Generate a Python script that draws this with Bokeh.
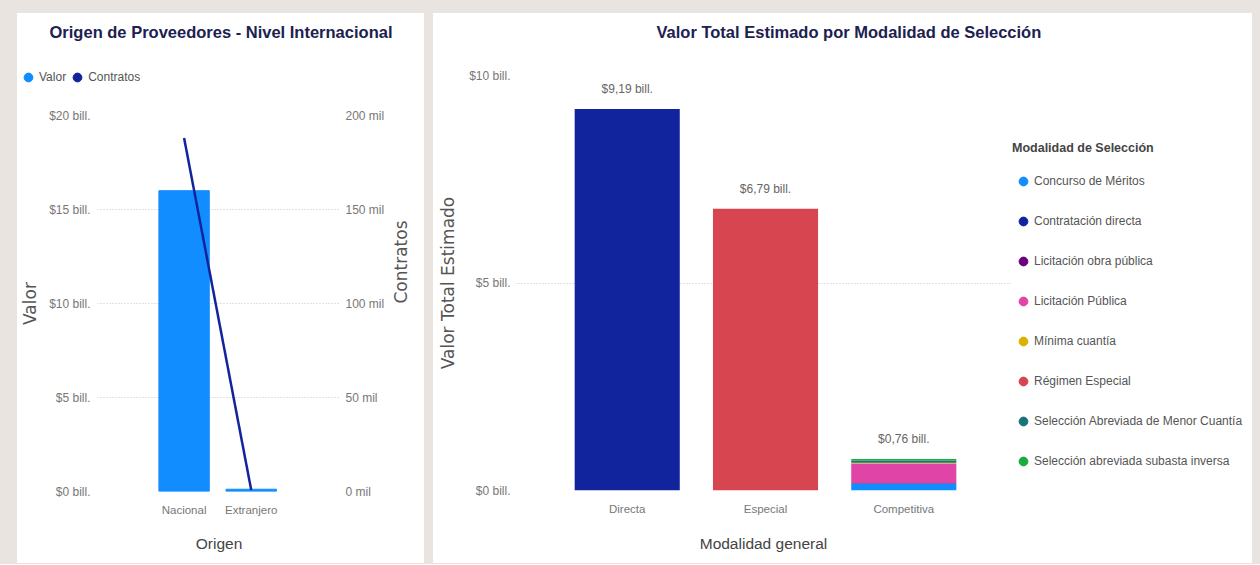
import math
from bokeh.plotting import figure
from bokeh.models import (Range1d, LinearAxis, FixedTicker, Legend, LegendItem,
                          ColumnDataSource, Spacer)
from bokeh.layouts import row, column
from bokeh.embed import file_html
from bokeh.resources import INLINE
from bokeh.core.properties import value

# ---------------- data ----------------
origen = ["Nacional", "Extranjero"]
valor_bill = [16.0, 0.12]          # billones de pesos
contratos = [188000, 800]
valor_ticks = [0, 5, 10, 15, 20]
contratos_ticks = [0, 50000, 100000, 150000, 200000]

grupos = ["Directa", "Especial", "Competitiva"]
modalidades = ["Concurso de Méritos", "Contratación directa", "Licitación obra pública",
               "Licitación Pública", "Mínima cuantía", "Régimen Especial",
               "Selección Abreviada de Menor Cuantía", "Selección abreviada subasta inversa"]
concurso_meritos = [0, 0, 0.17]
contratacion_directa = [9.19, 0, 0]
licitacion_obra = [0, 0, 0.01]
licitacion_publica = [0, 0, 0.47]
minima_cuantia = [0, 0, 0.02]
regimen_especial = [0, 6.79, 0]
sel_menor_cuantia = [0, 0, 0.05]
sel_subasta = [0, 0, 0.04]
total_ticks = [0, 5, 10]

valores = [concurso_meritos, contratacion_directa, licitacion_obra, licitacion_publica,
           minima_cuantia, regimen_especial, sel_menor_cuantia, sel_subasta]
colores = ["#118DFF", "#12239E", "#6B007B", "#E044A7", "#D9B300", "#D64550", "#197278", "#1AAB40"]

FONT = "Liberation Sans"
WIDE = "DejaVu Sans"
TITLE_COLOR = "#1C2150"
GRID = "#C4C4C4"
BG = "#E9E4DF"


def style_axis(ax, tick_size="12px"):
    ax.axis_line_color = None
    ax.major_tick_line_color = None
    ax.minor_tick_line_color = None
    ax.major_tick_out = 0
    ax.major_tick_in = 0
    ax.minor_tick_out = 0
    ax.minor_tick_in = 0
    ax.major_label_text_font = FONT
    ax.major_label_text_font_size = tick_size
    ax.major_label_text_color = "#777777"
    ax.axis_label_text_font_style = "normal"


def blank_fig(w, h, title=None):
    f = figure(width=w, height=h, output_backend="svg", toolbar_location=None,
               x_axis_type=None, y_axis_type=None, x_range=Range1d(0, 1), y_range=Range1d(0, 1),
               min_border=0)
    f.outline_line_color = None
    if title is not None:
        f.title.text = title
        f.title.text_font = FONT
        f.title.text_font_size = "16.5px"
        f.title.text_font_style = "bold"
        f.title.text_color = TITLE_COLOR
        f.title.standoff = 14
    return f


def style_legend(leg):
    leg.border_line_color = None
    leg.background_fill_alpha = 0
    leg.padding = 0
    leg.margin = 0
    leg.glyph_width = 22
    leg.glyph_height = 24
    leg.label_height = 24
    leg.label_standoff = 0
    leg.label_text_font = FONT
    leg.label_text_font_size = "12px"
    leg.label_text_color = "#555555"


# ---------------- left panel ----------------
idx1 = list(range(len(origen)))
head1 = blank_fig(407, 90, "Origen de Proveedores - Nivel Internacional")
head1.title.align = "center"
lv = head1.scatter(x=idx1, y=valor_bill, color="#118DFF", visible=False)
lc = head1.scatter(x=idx1, y=contratos, color="#12239E", visible=False)
leg1 = Legend(items=[LegendItem(label="Valor", renderers=[lv]),
                     LegendItem(label="Contratos", renderers=[lc])],
              orientation="horizontal", location=(0, 14))
style_legend(leg1)
leg1.spacing = 0
head1.add_layout(leg1)

p1 = figure(width=407, height=460, output_backend="svg", toolbar_location=None,
            x_range=Range1d(-1.29, 2.33), y_range=Range1d(0, 20),
            min_border_left=78, min_border_right=76, min_border_top=12, min_border_bottom=72)
p1.outline_line_color = None
p1.xgrid.grid_line_color = None
p1.ygrid.grid_line_color = GRID
p1.ygrid.grid_line_dash = "1 2"
p1.ygrid.ticker = FixedTicker(ticks=valor_ticks)

p1.extra_y_ranges = {"contratos": Range1d(0, 200000)}

p1.vbar(x=idx1, top=valor_bill, width=0.75, color="#118DFF")
p1.line(x=idx1, y=contratos, y_range_name="contratos", line_color="#12239E", line_width=2.5)

p1.xaxis.ticker = FixedTicker(ticks=idx1)
p1.xaxis.major_label_overrides = {i: n for i, n in enumerate(origen)}
p1.xaxis.axis_label = "Origen"
p1.yaxis.ticker = FixedTicker(ticks=valor_ticks)
p1.yaxis.major_label_overrides = {t: f"${t} bill." for t in valor_ticks}
p1.yaxis.axis_label = "Valor"
for ax in p1.xaxis + p1.yaxis:
    style_axis(ax)
p1.xaxis.major_label_text_font_size = "11.5px"
p1.xaxis.major_label_standoff = 12
p1.xaxis.axis_label_standoff = 16
p1.xaxis.axis_label_text_font = FONT
p1.xaxis.axis_label_text_font_size = "15.5px"
p1.xaxis.axis_label_text_color = "#444444"
p1.yaxis.major_label_standoff = 7
p1.yaxis.axis_label_standoff = 6
p1.yaxis.axis_label_text_font = WIDE
p1.yaxis.axis_label_text_font_size = "17px"
p1.yaxis.axis_label_text_color = "#555555"

ax_r = LinearAxis(y_range_name="contratos", axis_label="Contratos",
                  ticker=FixedTicker(ticks=contratos_ticks))
ax_r.major_label_overrides = {t: f"{t // 1000} mil" for t in contratos_ticks}
style_axis(ax_r)
ax_r.major_label_standoff = 5
ax_r.axis_label_standoff = 14
ax_r.axis_label_text_font = WIDE
ax_r.axis_label_text_font_size = "17px"
ax_r.axis_label_text_color = "#555555"
if "axis_label_orientation" in ax_r.properties():
    ax_r.axis_label_orientation = math.pi / 2
p1.add_layout(ax_r, "right")

left_panel = column(column(head1), column(p1), styles={"background-color": "#FFFFFF"})

# ---------------- right panel ----------------
head2 = blank_fig(819, 55, "Valor Total Estimado por Modalidad de Selección")
head2.title.align = "left"
head2.title.offset = 223

idx2 = list(range(len(grupos)))
data = {"x": idx2}
for m, v in zip(modalidades, valores):
    data[m] = v
src = ColumnDataSource(data)
totales = [sum(v[i] for v in valores) for i in idx2]
etiquetas = [("$%.2f bill." % t).replace(".", ",", 1) for t in totales]

p2 = figure(width=578, height=495, output_backend="svg", toolbar_location=None,
            x_range=Range1d(-0.808, 2.779), y_range=Range1d(0, 10),
            min_border_left=82, min_border_right=0, min_border_top=7, min_border_bottom=73)
p2.outline_line_color = None
p2.xgrid.grid_line_color = None
p2.ygrid.grid_line_color = GRID
p2.ygrid.grid_line_dash = "1 2"
p2.ygrid.ticker = FixedTicker(ticks=total_ticks)

p2.vbar_stack(modalidades, x="x", width=0.76, color=colores, source=src, line_color=None)
p2.text(x=idx2, y=totales, text=etiquetas, y_offset=-13, text_align="center",
        text_baseline="bottom", text_font=value(FONT), text_font_size="12px",
        text_color="#666666")

p2.xaxis.ticker = FixedTicker(ticks=idx2)
p2.xaxis.major_label_overrides = {i: n for i, n in enumerate(grupos)}
p2.xaxis.axis_label = "Modalidad general"
p2.yaxis.ticker = FixedTicker(ticks=total_ticks)
p2.yaxis.major_label_overrides = {t: f"${t} bill." for t in total_ticks}
p2.yaxis.axis_label = "Valor Total Estimado"
for ax in p2.xaxis + p2.yaxis:
    style_axis(ax)
p2.xaxis.major_label_text_font_size = "11.5px"
p2.xaxis.major_label_standoff = 12
p2.xaxis.axis_label_standoff = 17
p2.xaxis.axis_label_text_font = FONT
p2.xaxis.axis_label_text_font_size = "15.5px"
p2.xaxis.axis_label_text_color = "#444444"
p2.yaxis.major_label_standoff = 5
p2.yaxis.axis_label_standoff = 8
p2.yaxis.axis_label_text_font = WIDE
p2.yaxis.axis_label_text_font_size = "17px"
p2.yaxis.axis_label_text_color = "#555555"

legfig = blank_fig(241, 495)
items2 = []
for m, c, v in zip(modalidades, colores, valores):
    r = legfig.scatter(x=idx2, y=v, color=c, visible=False)
    items2.append(LegendItem(label=m, renderers=[r]))
leg2 = Legend(items=items2, title="Modalidad de Selección", location=(1, 90))
style_legend(leg2)
leg2.spacing = 16
leg2.title_text_font = FONT
leg2.title_text_font_size = "12.5px"
leg2.title_text_font_style = "bold"
leg2.title_text_color = "#444444"
leg2.title_standoff = 14
legfig.add_layout(leg2)

right_panel = column(column(head2), row(column(p2), column(legfig)),
                     styles={"background-color": "#FFFFFF"})

layout = column(Spacer(height=13),
                row(Spacer(width=17), left_panel, Spacer(width=9), right_panel, Spacer(width=8)),
                Spacer(height=1),
                styles={"background-color": BG})

open("out.html", "w").write(file_html(layout, INLINE))
